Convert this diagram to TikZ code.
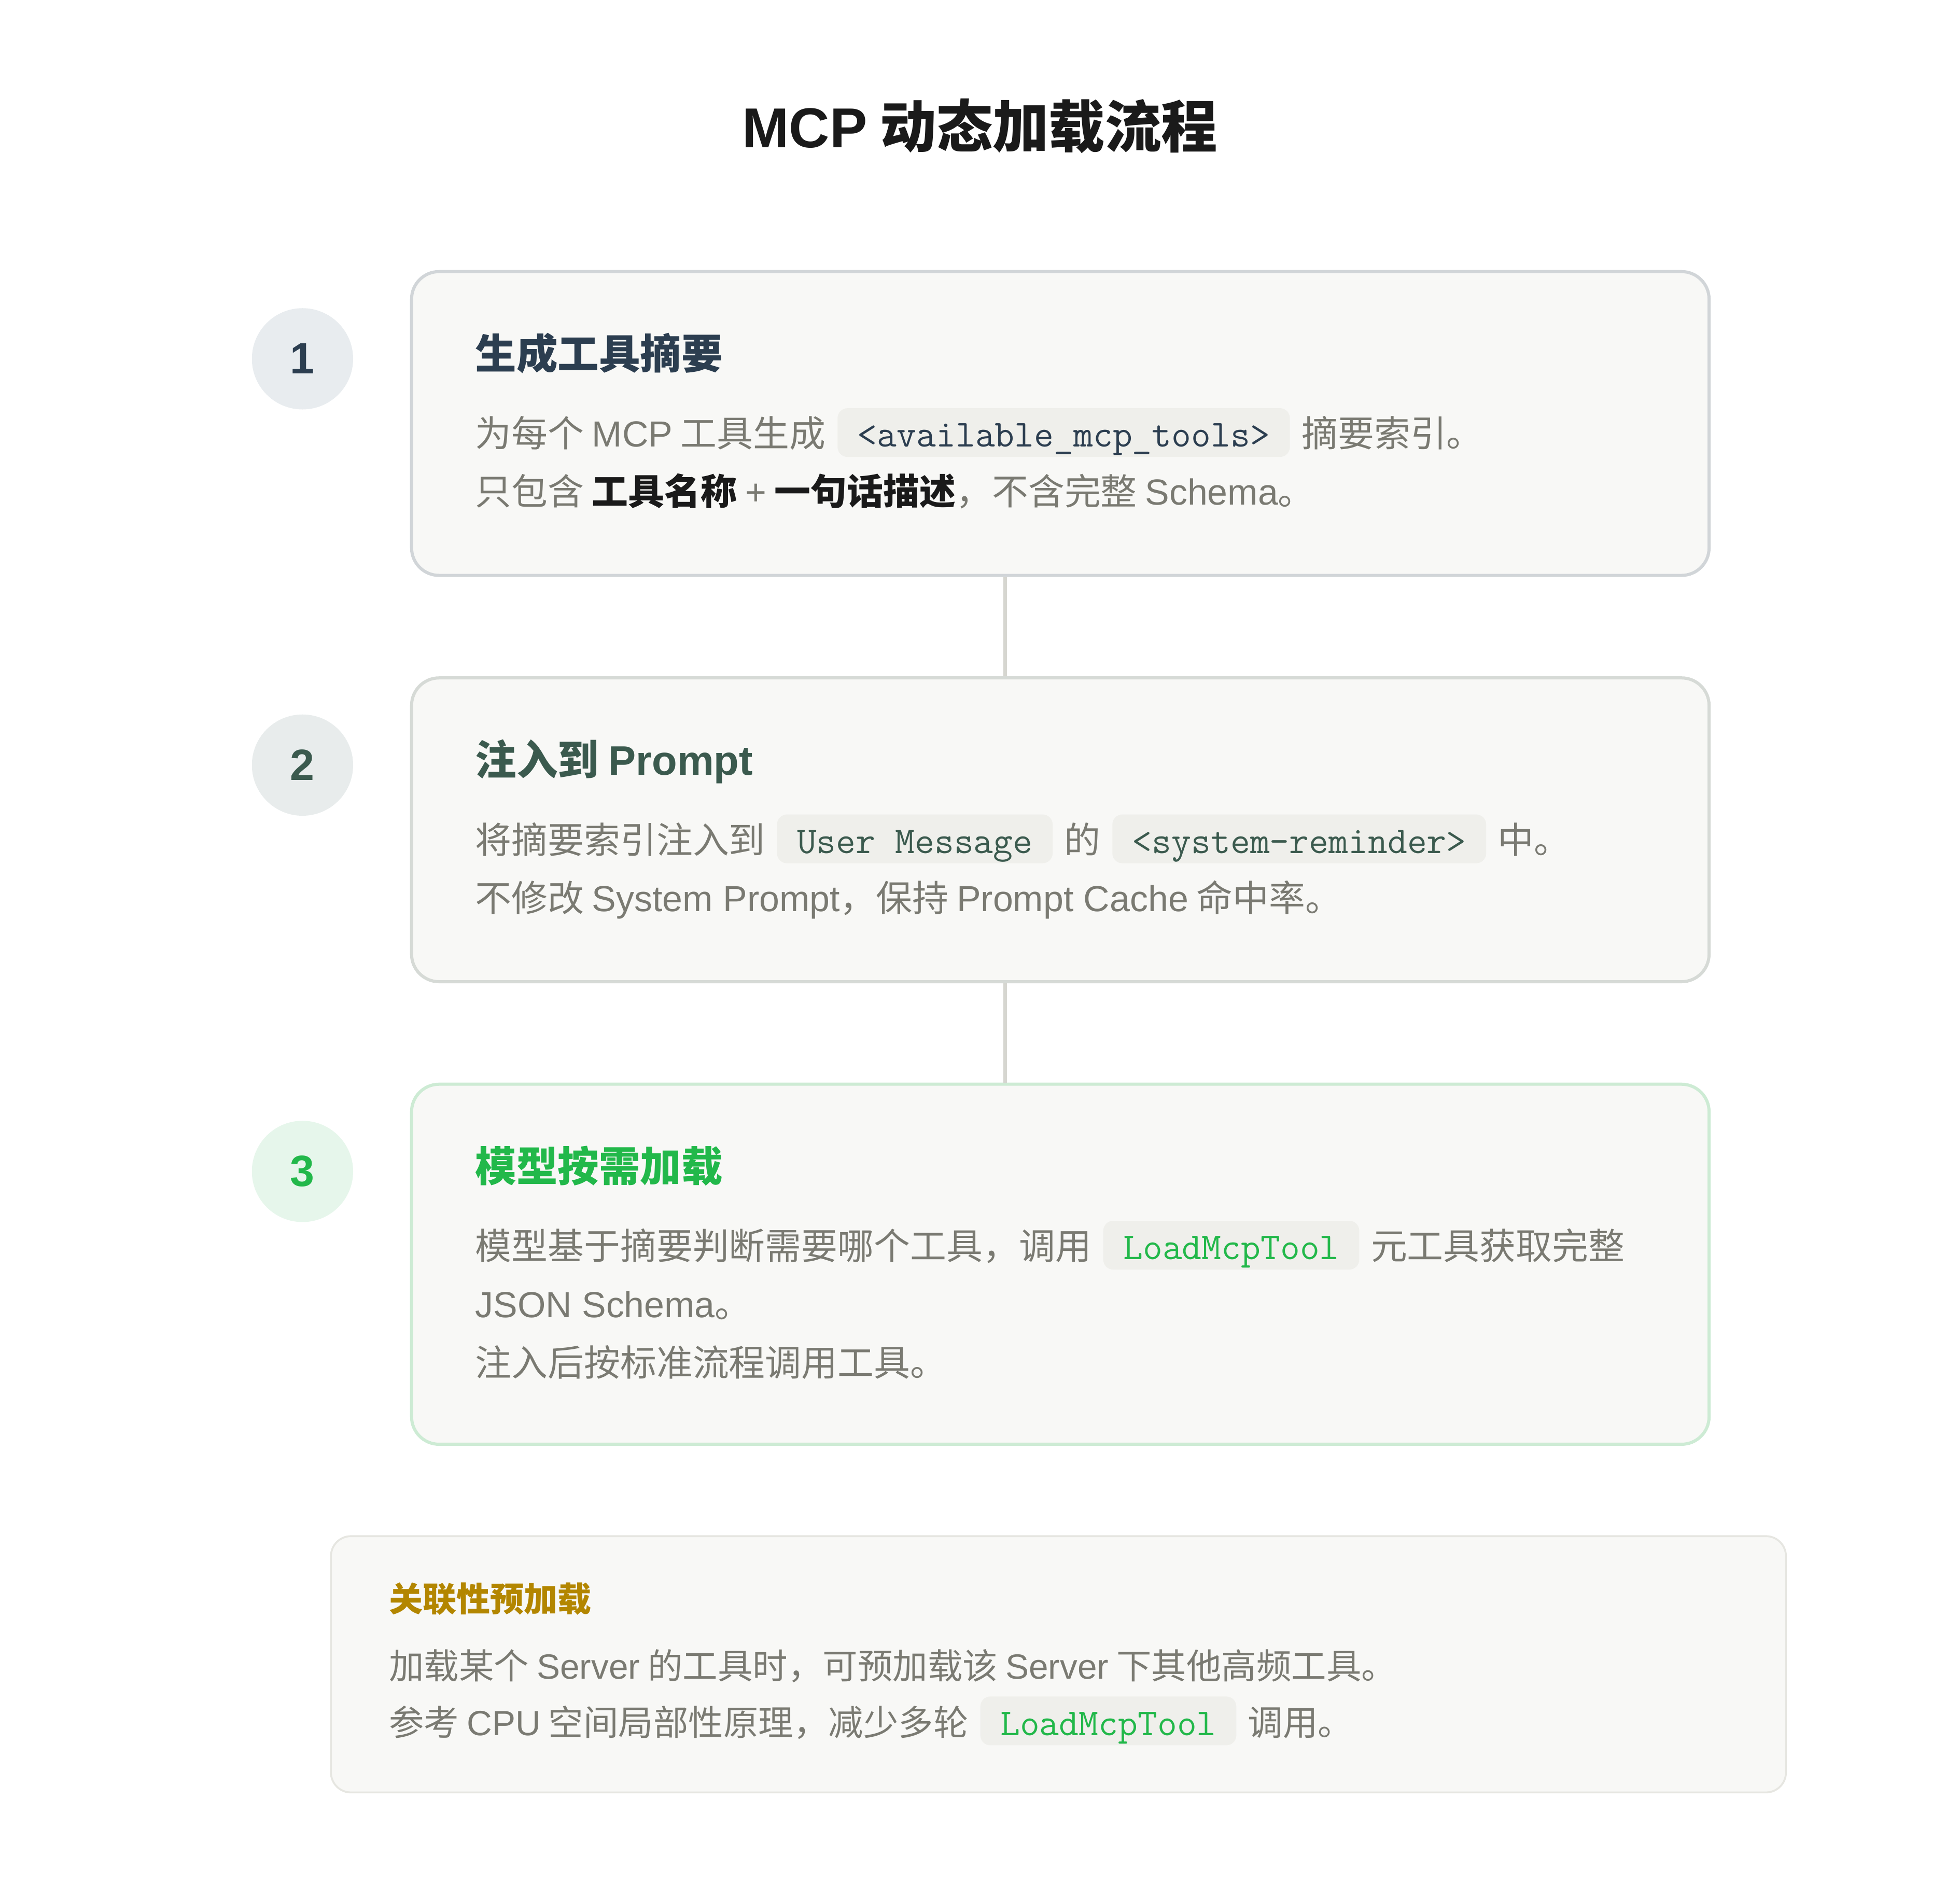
\documentclass[tikz,border=0pt]{standalone}
\usepackage{fontspec}
\setmainfont{Noto Sans CJK SC}
\newfontfamily\latfont{Liberation Sans}
\usepackage{tikz}
\usetikzlibrary{positioning}

\definecolor{ink}{HTML}{1A1A1A}
\definecolor{bodygrey}{HTML}{7A7A72}
\definecolor{stepA}{HTML}{2C3E50}
\definecolor{stepB}{HTML}{3B5A4E}
\definecolor{stepC}{HTML}{22B84A}
\definecolor{circA}{HTML}{E8ECEF}
\definecolor{circB}{HTML}{E8ECEC}
\definecolor{circC}{HTML}{E6F6EB}
\definecolor{boxfill}{HTML}{F8F8F6}
\definecolor{edgeA}{HTML}{D1D5D8}
\definecolor{edgeB}{HTML}{D6DAD6}
\definecolor{edgeC}{HTML}{CDEBD4}
\definecolor{chipfill}{HTML}{EFEFEB}
\definecolor{noteedge}{HTML}{E6E6E1}
\definecolor{notegold}{HTML}{B38600}
\definecolor{linkgrey}{HTML}{D6D6D0}

\newcommand{\strongtxt}[1]{{\bfseries\color{ink}#1}}
\newcommand{\lat}[1]{{\latfont #1}}

\begin{document}
\begin{tikzpicture}[x=1pt, y=-1pt,
    heading/.style={anchor=base, inner sep=0pt, text=ink, font=\fontsize{45pt}{52pt}\selectfont\bfseries},
    stepnum/.style={circle, minimum size=81pt, inner sep=0pt, font=\fontsize{35pt}{40pt}\selectfont\bfseries\latfont},
    stepbox/.style={anchor=north west, rounded corners=22pt, fill=boxfill, line width=2.5pt},
    steptitle/.style={anchor=base west, inner sep=0pt, font=\fontsize{33pt}{40pt}\selectfont\bfseries},
    body/.style={anchor=base west, inner sep=0pt, text=bodygrey, font=\fontsize{29pt}{34pt}\selectfont},
    notebody/.style={body, font=\fontsize{28pt}{34pt}\selectfont},
    chip/.style={anchor=base west, fill=chipfill, rounded corners=8pt, inner xsep=16pt, inner ysep=6pt,
        text height=25pt, text depth=2pt, font=\fontsize{30.5pt}{34pt}\selectfont\ttfamily},
    notebox/.style={anchor=north west, rounded corners=16pt, fill=boxfill, draw=noteedge, line width=1.5pt},
    link/.style={draw=linkgrey, line width=3pt}]
  \useasboundingbox (0,0) rectangle (1568,1506);

  \node[heading] (head) at (784,118) {\lat{MCP} 动态加载流程};

  % step boxes
  \node[stepbox, draw=edgeA, minimum width=1038pt, minimum height=243pt] (box1) at (328,216) {};
  \node[stepbox, draw=edgeB, minimum width=1038pt, minimum height=243pt] (box2) at (328,541) {};
  \node[stepbox, draw=edgeC, minimum width=1038pt, minimum height=288pt] (box3) at (328,866) {};
  \draw[link] ([xshift=-44pt]box1.south) -- ([xshift=-44pt]box2.north);
  \draw[link] ([xshift=-44pt]box2.south) -- ([xshift=-44pt]box3.north);

  \node[stepnum, fill=circA, text=stepA] (n1) at (242,287) {1};
  \node[stepnum, fill=circB, text=stepB] (n2) at (242,612) {2};
  \node[stepnum, fill=circC, text=stepC] (n3) at (242,937) {3};

  % step 1
  \node[steptitle, text=stepA] (t1) at (380,295) {生成工具摘要};
  \node[body] (a1) at (380,357.5) {为每个 \lat{MCP} 工具生成};
  \node[chip, text=stepA] (c1) at ([xshift=9pt]a1.base east) {<available\_mcp\_tools>};
  \node[body] (a2) at ([xshift=9pt]c1.base east) {摘要索引。};
  \node[body] (a3) at (380,404) {只包含 \strongtxt{工具名称} \lat{+} \strongtxt{一句话描述}，不含完整 \lat{Schema}。};

  % step 2
  \node[steptitle, text=stepB] (t2) at (380,620) {注入到 \lat{Prompt}};
  \node[body] (b1) at (380,682.5) {将摘要索引注入到};
  \node[chip, text=stepB] (c2) at ([xshift=9pt]b1.base east) {User Message};
  \node[body] (b2) at ([xshift=9pt]c2.base east) {的};
  \node[chip, text=stepB] (c3) at ([xshift=9pt]b2.base east) {<system-reminder>};
  \node[body] (b3) at ([xshift=9pt]c3.base east) {中。};
  \node[body] (b4) at (380,729) {不修改 \lat{System Prompt}，保持 \lat{Prompt Cache} 命中率。};

  % step 3
  \node[steptitle, text=stepC] (t3) at (380,945) {模型按需加载};
  \node[body] (d1) at (380,1007.5) {模型基于摘要判断需要哪个工具，调用};
  \node[chip, text=stepC] (c4) at ([xshift=9pt]d1.base east) {LoadMcpTool};
  \node[body] (d2) at ([xshift=9pt]c4.base east) {元工具获取完整};
  \node[body] (d3) at (380,1054) {\lat{JSON Schema}。};
  \node[body] (d4) at (380,1100.5) {注入后按标准流程调用工具。};

  % note
  \node[notebox, minimum width=1164pt, minimum height=205pt] (note) at (264,1228) {};
  \node[steptitle, text=notegold, font=\fontsize{27pt}{32pt}\selectfont\bfseries] (nt) at (311,1289) {关联性预加载};
  \node[notebody] (e1) at (311,1343) {加载某个 \lat{Server} 的工具时，可预加载该 \lat{Server} 下其他高频工具。};
  \node[notebody] (e2) at (311,1388) {参考 \lat{CPU} 空间局部性原理，减少多轮};
  \node[chip, text=stepC] (c5) at ([xshift=9pt]e2.base east) {LoadMcpTool};
  \node[notebody] (e3) at ([xshift=9pt]c5.base east) {调用。};
\end{tikzpicture}
\end{document}
